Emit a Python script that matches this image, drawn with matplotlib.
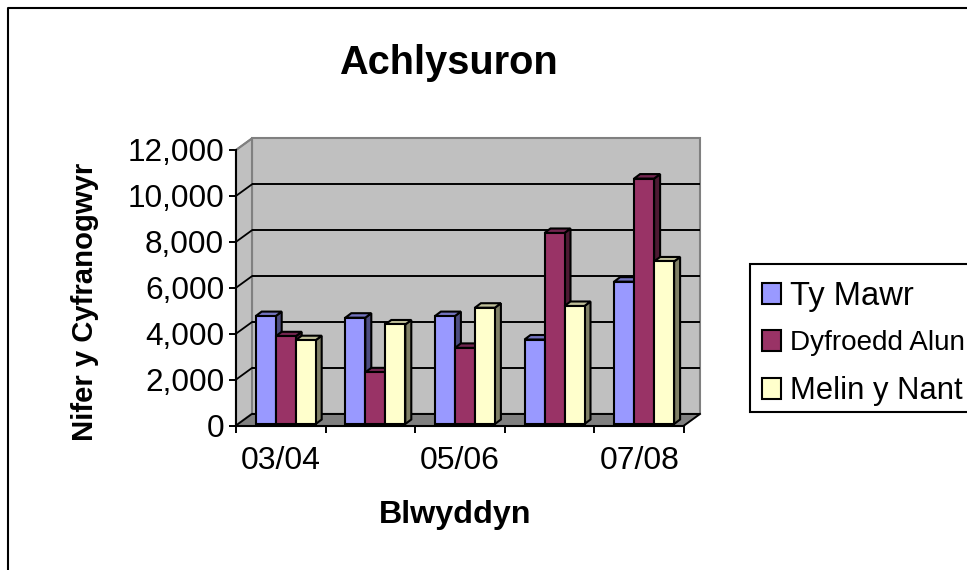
import matplotlib
matplotlib.use("Agg")
import matplotlib.pyplot as plt
from matplotlib.lines import Line2D
from matplotlib.patches import Polygon, Rectangle
import numpy as np

plt.rcParams['font.family'] = ['Liberation Sans', 'DejaVu Sans']

title = "Achlysuron"
x_title = "Blwyddyn"
y_title = "Nifer y Cyfranogwyr"
categories = ["03/04", "04/05", "05/06", "06/07", "07/08"]
ty_mawr = [4700, 4630, 4700, 3680, 6200]
dyfroedd_alun = [3820, 2250, 3315, 8320, 10690]
melin_y_nant = [3650, 4335, 5065, 5140, 7080]
series_names = ["Ty Mawr", "Dyfroedd Alun", "Melin y Nant"]
series_values = [ty_mawr, dyfroedd_alun, melin_y_nant]
front_colors = ["#9999FF", "#993366", "#FFFFCC"]
top_colors = ["#7373BF", "#732650", "#BFBF99"]
side_colors = ["#4D4D80", "#4D1A33", "#808066"]
y_ticks = [0, 2000, 4000, 6000, 8000, 10000, 12000]

W, H = 967, 570
fig = plt.figure(figsize=(W / 100, H / 100), dpi=100)
LX0, LX1, BY, TY = 236, 684, 425.5, 150
ax = fig.add_axes([LX0 / W, 1 - BY / H, (LX1 - LX0) / W, (BY - TY) / H])
n = len(categories)
ymax = y_ticks[-1]
ax.set_xlim(0, n)
ax.set_ylim(0, ymax)

# pixel -> data scale for the oblique projection
px_x = n / (LX1 - LX0)
px_y = ymax / (BY - TY)
DX, DY = 16 * px_x, 11.6 * px_y        # wall depth
bdx, bdy = 6 * px_x, 4.5 * px_y        # bar depth
shift, lift = 4.9 * px_x, 1.5 * px_y   # bar placement on floor
bw = 20 * px_x

WALL, FLOOR, EDGE = "#C0C0C0", "#808080", "#808080"
LW = 1.5

ax.add_patch(Polygon([(0 + DX, DY), (n + DX, DY), (n + DX, ymax + DY), (0 + DX, ymax + DY)],
                     fc=WALL, ec=EDGE, lw=LW, clip_on=False, zorder=1))
ax.add_patch(Polygon([(0, 0), (DX, DY), (DX, ymax + DY), (0, ymax)],
                     fc=WALL, ec=EDGE, lw=LW, clip_on=False, zorder=1))
ax.add_patch(Polygon([(0, 0), (n, 0), (n + DX, DY), (DX, DY)],
                     fc=FLOOR, ec=FLOOR, lw=LW, clip_on=False, zorder=1))
for t in y_ticks[:-1]:
    ax.plot([DX, n + DX], [t + DY, t + DY], color="black", lw=1.4, clip_on=False, zorder=2,
            solid_capstyle="butt")
for t in y_ticks:
    col = "black" if t < ymax else EDGE
    ax.plot([0, DX], [t, t + DY], color=col, lw=1.3, clip_on=False, zorder=2)
ax.plot([n, n + DX], [0, DY], color="black", lw=1.3, clip_on=False, zorder=2)

z = 3
for c in range(n):
    left = c + 0.5 - 1.5 * bw + shift
    for s, vals in enumerate(series_values):
        x0 = left + s * bw
        x1 = x0 + bw
        v = vals[c] + lift
        ax.add_patch(Polygon([(x1, lift), (x1 + bdx, lift + bdy), (x1 + bdx, v + bdy), (x1, v)],
                             fc=side_colors[s], ec="black", lw=LW, clip_on=False, zorder=z))
        ax.add_patch(Polygon([(x0, v), (x1, v), (x1 + bdx, v + bdy), (x0 + bdx, v + bdy)],
                             fc=top_colors[s], ec="black", lw=LW, clip_on=False, zorder=z))
        ax.bar(x0, vals[c], bw, bottom=lift, align="edge", color=front_colors[s],
               edgecolor="black", lw=LW, clip_on=False, zorder=z + 0.5)
        z += 1

for sp in ("top", "right"):
    ax.spines[sp].set_visible(False)
for sp in ("left", "bottom"):
    ax.spines[sp].set_linewidth(1.5)
    ax.spines[sp].set_zorder(50)
ax.patch.set_visible(False)
ax.set_yticks(y_ticks)
ax.set_yticklabels([f"{t:,}" for t in y_ticks], fontsize=22.7)
ax.tick_params(axis="y", length=5, width=1.4, pad=3.5)
ax.set_xticks(np.arange(n + 1), minor=True)
ax.set_xticks(np.arange(n)[::2] + 0.5)
ax.set_xticklabels(categories[::2], fontsize=23)
ax.tick_params(axis="x", which="major", length=0, pad=15)
ax.tick_params(axis="x", which="minor", length=5, width=1.4)

fig.text(448.5 / W, 1 - 63 / H, title, fontsize=28.6, fontweight="bold", ha="center", va="center")
fig.text(455 / W, 1 - 515 / H, x_title, fontsize=23.2, fontweight="bold", ha="center", va="center")
fig.text(85.5 / W, 1 - 302 / H, y_title, fontsize=21.1, fontweight="bold", rotation=90,
         ha="center", va="center")

# legend box: runs past the right edge of the picture, as in the reference
fig.add_artist(Rectangle((749.5 / W, 1 - 411.5 / H), 240 / W, 147.5 / H, fc="white", ec="black",
                         lw=1.5, transform=fig.transFigure))
legend_rows = [293, 340, 388]
legend_sizes = [23.6, 20.1, 22.3]
for i, name in enumerate(series_names):
    yc = legend_rows[i]
    fig.add_artist(Rectangle((762 / W, 1 - (yc + 10.5) / H), 19 / W, 21 / H, fc=front_colors[i],
                             ec="black", lw=1.5, transform=fig.transFigure))
    fig.text(790.5 / W, 1 - yc / H, name, fontsize=legend_sizes[i], ha="left", va="center_baseline")

fig.add_artist(Line2D([8 / W, 8 / W, 1], [0, 1 - 8 / H, 1 - 8 / H], color="black", lw=1.5))

fig.savefig("out.png", dpi=100)
